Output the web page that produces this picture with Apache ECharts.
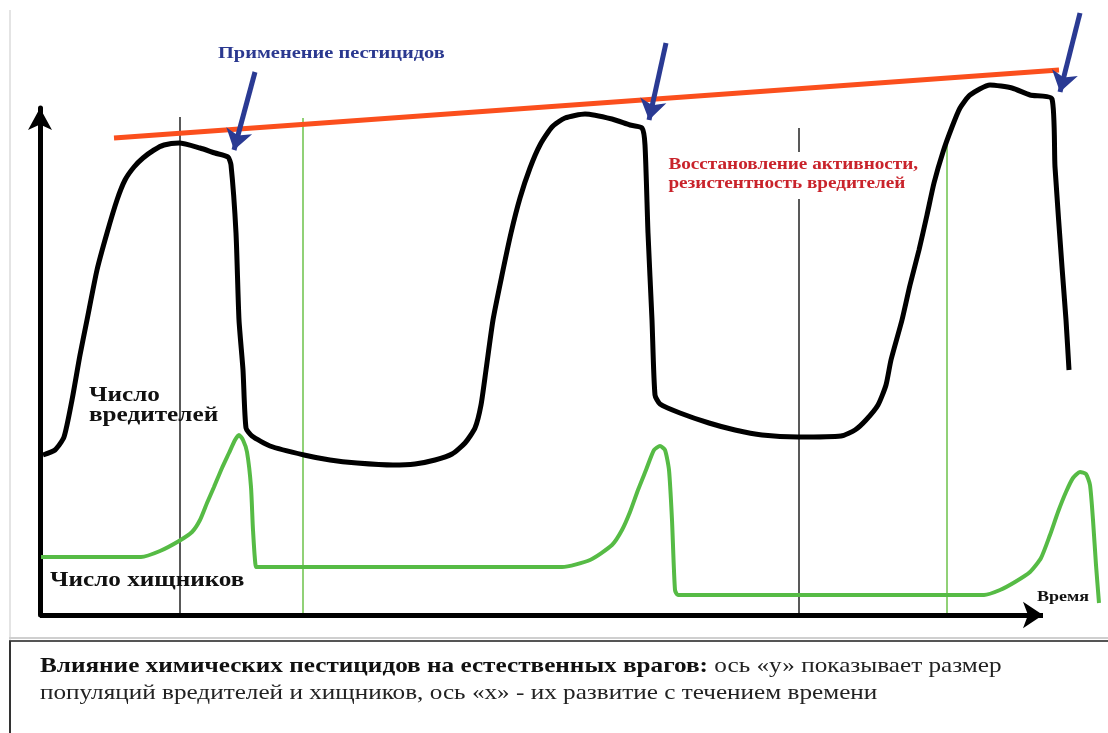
<!DOCTYPE html>
<html>
<head>
  <meta charset="utf-8" />
  <title>Влияние химических пестицидов на естественных врагов</title>
  <script src="https://cdn.jsdelivr.net/npm/echarts@6/dist/echarts.min.js"></script>
  <style>
    html, body { margin: 0; padding: 0; background: #fff; }
  </style>
</head>
<body>
  <div id="chart" style="width: 1108px; height: 733px;"></div>
  <script type="text/javascript">

    // Pest population over time: [time, size]
    let pests = [[3, 160], [15, 165], [24, 178], [32, 215], [40, 260], [47, 295], [57, 345],
      [67, 382], [77, 415], [85, 435], [94, 448], [103, 457], [114, 465], [124, 470],
      [139, 472], [160, 467], [175, 462], [188, 458], [191, 450], [196, 382], [199, 295],
      [203, 245], [206, 187], [212, 179], [230, 169], [264, 160], [290, 155], [317, 152],
      [353, 150], [375, 151], [395, 155], [412, 161], [425, 172], [435, 187], [441, 210],
      [446, 245], [453, 295], [462, 340], [471, 382], [480, 417], [490, 447], [500, 470],
      [512, 488], [525, 497], [545, 501], [572, 496], [590, 490], [602, 487], [605, 470],
      [608, 382], [612, 295], [615, 220], [620, 211], [640, 202], [669, 192], [695, 185],
      [722, 180], [758, 178], [801, 179], [815, 185], [826, 195], [838, 210], [846, 230],
      [851, 255], [862, 295], [870, 330], [879, 365], [887, 400], [894, 432], [903, 463],
      [912, 488], [920, 507], [930, 520], [950, 530], [972, 527], [990, 520], [1012, 516],
      [1015, 448], [1022, 348], [1026, 295], [1029, 245]];

    // Predator population over time: [time, size]
    let predators = [[1, 58], [101, 58], [120, 64], [139, 74], [152, 83], [160, 95], [167, 112],
      [174, 128], [182, 147], [189, 162], [195, 175], [199, 180], [203, 175], [207, 163],
      [211, 128], [213, 85], [216, 48], [218, 48], [522, 48], [550, 55], [572, 70], [582, 85],
      [590, 103], [598, 125], [606, 145], [614, 165], [620, 169], [625, 165], [629, 145],
      [632, 95], [635, 25], [638, 20], [944, 20], [960, 25], [975, 33], [990, 43], [1001, 57],
      [1010, 80], [1018, 103], [1026, 123], [1033, 137], [1040, 143], [1046, 141], [1050, 130],
      [1053, 95], [1056, 50], [1059, 12]];

    // Resistance trend line (start, end)
    let resistance = [[74, 477], [1019, 545]];

    // Pesticide applications: [tail, tip]
    let applications = [
      [[215, 543], [194, 465]],
      [[626, 572], [609, 495]],
      [[1040, 602], [1020, 523]]
    ];

    // Reference moments: [time, top]
    let blackMarks = [[140, 498], [759, 487]];
    let greenMarks = [[263, 497], [907, 480]];

    // End of the time axis
    let timeAxisEnd = 1003;

    var chart = echarts.init(document.getElementById('chart'));

    function vertical(list) {
      return list.map(function (m) {
        return { coords: [[m[0], 0], [m[0], m[1]]] };
      });
    }

    var serif = '"Liberation Serif", "DejaVu Serif", serif';
    var stretch = 1.2;

    function label(x, y, text, style) {
      return {
        type: 'text', x: x, y: y, scaleX: stretch, z: 10,
        style: Object.assign({ text: text, verticalAlign: 'top' }, style)
      };
    }

    var option = {
      animation: false,
      backgroundColor: '#fff',
      grid: { left: 40, right: 0, top: 108, bottom: 118 },
      xAxis: {
        type: 'value',
        min: 0,
        max: 1068,
        axisLine: { show: false },
        axisTick: { show: false },
        axisLabel: { show: false },
        splitLine: { show: false }
      },
      yAxis: {
        type: 'value',
        min: 0,
        max: 507,
        axisLine: {
          show: true,
          symbol: ['none', 'arrow'],
          symbolSize: [18, 22],
          lineStyle: { color: '#000', width: 5 }
        },
        axisTick: { show: false },
        axisLabel: { show: false },
        splitLine: { show: false }
      },
      series: [
        {
          name: 'Время',
          type: 'lines',
          coordinateSystem: 'cartesian2d',
          clip: false,
          z: 2,
          symbol: ['none', 'arrow'],
          symbolSize: 20,
          lineStyle: { color: '#000', width: 5, opacity: 1 },
          data: [{ coords: [[0, 0], [timeAxisEnd, 0]] }]
        },
        {
          name: 'moments black',
          type: 'lines',
          coordinateSystem: 'cartesian2d',
          clip: false,
          z: 1,
          lineStyle: { color: '#222', width: 1.5, opacity: 1 },
          data: vertical(blackMarks)
        },
        {
          name: 'moments green',
          type: 'lines',
          coordinateSystem: 'cartesian2d',
          clip: false,
          z: 1,
          lineStyle: { color: '#6cc24a', width: 1.5, opacity: 1 },
          data: vertical(greenMarks)
        },
        {
          name: 'Число хищников',
          type: 'line',
          clip: false,
          showSymbol: false,
          smooth: 0.2,
          z: 3,
          lineStyle: { color: '#56bb45', width: 4 },
          data: predators
        },
        {
          name: 'Число вредителей',
          type: 'line',
          clip: false,
          showSymbol: false,
          smooth: 0.2,
          z: 4,
          lineStyle: { color: '#000', width: 5 },
          data: pests
        },
        {
          name: 'Резистентность',
          type: 'line',
          clip: false,
          showSymbol: false,
          z: 5,
          lineStyle: { color: '#fb4f1d', width: 5 },
          data: resistance
        },
        {
          name: 'Применение пестицидов',
          type: 'lines',
          coordinateSystem: 'cartesian2d',
          clip: false,
          z: 6,
          symbol: ['none', 'arrow'],
          symbolSize: 20,
          lineStyle: { color: '#2a3a93', width: 5, opacity: 1 },
          data: applications.map(function (a) { return { coords: a }; })
        }
      ],
      graphic: [
        // light frame around the chart and caption box
        { type: 'line', shape: { x1: 10, y1: 10, x2: 10, y2: 640 }, style: { stroke: '#e4e4e4', lineWidth: 2 } },
        { type: 'line', shape: { x1: 9, y1: 638, x2: 1108, y2: 638 }, style: { stroke: '#cfcfcf', lineWidth: 2 } },
        { type: 'line', shape: { x1: 9, y1: 641, x2: 1108, y2: 641 }, style: { stroke: '#555', lineWidth: 2 } },
        { type: 'line', shape: { x1: 10, y1: 641, x2: 10, y2: 733 }, style: { stroke: '#333', lineWidth: 2 } },
        label(218, 45, 'Применение пестицидов', { fill: '#2b3990', font: 'bold 17px ' + serif }),
        label(666, 152, 'Восстановление активности,\nрезистентность вредителей', {
          fill: '#c9232b', font: 'bold 16px ' + serif, lineHeight: 19,
          backgroundColor: '#fff', padding: [3, 2, 6, 2]
        }),
        label(89, 386, 'Число\nвредителей', { fill: '#111', font: 'bold 21px ' + serif, lineHeight: 20 }),
        label(50, 570, 'Число хищников', { fill: '#111', font: 'bold 21px ' + serif }),
        label(1037, 590, 'Время', { fill: '#111', font: 'bold 15px ' + serif }),
        label(40, 653,
          '{b|Влияние химических пестицидов на естественных врагов:} ось «у» показывает размер\nпопуляций вредителей и хищников, ось «х» - их развитие с течением времени', {
          fill: '#222', font: '21px ' + serif, lineHeight: 27,
          rich: { b: { font: 'bold 21px ' + serif, fill: '#111' } }
        })
      ]
    };

    chart.setOption(option);
  </script>
</body>
</html>
